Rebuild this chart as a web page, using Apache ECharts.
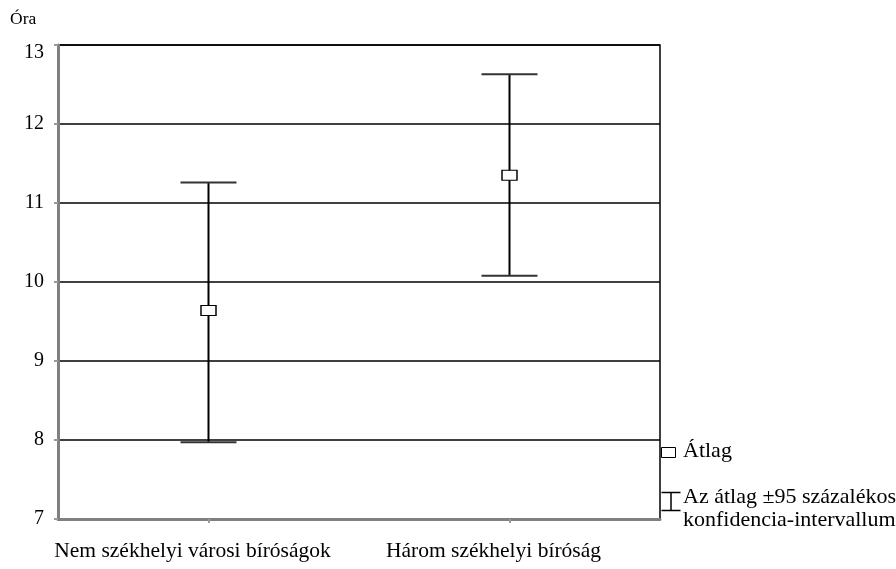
<!DOCTYPE html>
<html>
<head>
<meta charset="utf-8">
<script src="https://cdn.jsdelivr.net/npm/echarts@6/dist/echarts.min.js"></script>
<style>html,body{margin:0;padding:0;background:#fff;}#chart{width:896px;height:569px;}</style>
</head>
<body>
<div id="chart"></div>
<script>
const categories = ['Nem székhelyi városi bíróságok', 'Három székhelyi bíróság'];
const means = [9.64, 11.35];
const lowerCI = [7.97, 10.08];
const upperCI = [11.26, 12.63];
const yMin = 7, yMax = 13, yStep = 1;
const axisName = 'Óra';
const legendMean = 'Átlag';
const legendCI = ['Az átlag ±95 százalékos', 'konfidencia-intervallum'];

const FONT = '"Liberation Serif", "Times New Roman", serif';
const chart = echarts.init(document.getElementById('chart'), null, {renderer: 'canvas'});

const ciData = categories.map((c, i) => [i, lowerCI[i], upperCI[i]]);
const meanData = categories.map((c, i) => [i, means[i]]);

chart.setOption({
  animation: false,
  backgroundColor: '#fff',
  grid: {left: 58, right: 236, top: 45, bottom: 50, show: true, borderColor: '#000', borderWidth: 1.5, backgroundColor: 'transparent'},
  xAxis: {
    type: 'category',
    data: categories,
    boundaryGap: true,
    axisLine: {lineStyle: {color: '#808080', width: 3}},
    axisTick: {show: true, alignWithLabel: true, length: 4, lineStyle: {color: '#999', width: 2}},
    axisLabel: {color: '#000', fontFamily: FONT, fontSize: 21.5, margin: 21, interval: 0, padding: [0, 32, 0, 0]},
    splitLine: {show: false}
  },
  yAxis: {
    type: 'value',
    min: yMin, max: yMax, interval: yStep,
    name: axisName,
    nameLocation: 'end',
    nameGap: 17,
    nameTextStyle: {color: '#000', fontFamily: FONT, fontSize: 17.5, align: 'left', padding: [0, 0, 0, -48]},
    axisLine: {show: true, lineStyle: {color: '#808080', width: 3}},
    axisTick: {show: true, length: 4, lineStyle: {color: '#999', width: 2}},
    axisLabel: {
      color: '#000', fontFamily: FONT, fontSize: 20, margin: 14,
      formatter: function (v) { return v === yMax ? '{t|' + v + '}' : String(v); },
      rich: {t: {color: '#000', fontFamily: FONT, fontSize: 20, padding: [15, 0, 0, 0]}}
    },
    splitLine: {show: true, lineStyle: {color: '#000', width: 1.5}}
  },
  series: [
    {
      type: 'custom',
      name: 'CI',
      data: ciData,
      z: 5,
      renderItem: function (params, api) {
        const x = api.value(0);
        const lo = api.coord([x, api.value(1)]);
        const hi = api.coord([x, api.value(2)]);
        const half = 28;
        return {
          type: 'group',
          children: [
            {type: 'line', shape: {x1: lo[0], y1: lo[1], x2: hi[0], y2: hi[1]}, style: {stroke: '#000', lineWidth: 2}},
            {type: 'line', shape: {x1: hi[0] - half, y1: hi[1], x2: hi[0] + half, y2: hi[1]}, style: {stroke: '#333', lineWidth: 2}},
            {type: 'line', shape: {x1: lo[0] - half, y1: lo[1], x2: lo[0] + half, y2: lo[1]}, style: {stroke: '#333', lineWidth: 2}}
          ]
        };
      }
    },
    {
      type: 'scatter',
      name: legendMean,
      data: meanData,
      z: 10,
      symbol: 'rect',
      symbolSize: [15, 10],
      itemStyle: {color: '#fff', borderColor: '#000', borderWidth: 1.2, opacity: 1}
    }
  ],
  graphic: [
    {type: 'rect', left: 661, top: 447, shape: {width: 14, height: 10}, style: {fill: '#fff', stroke: '#000', lineWidth: 1}},
    {type: 'text', left: 683, top: 440, style: {text: legendMean, font: '22px ' + FONT, fill: '#000'}},
    {type: 'group', left: 659, top: 490, children: [
      {type: 'line', shape: {x1: 0, y1: 1, x2: 19, y2: 1}, style: {stroke: '#000', lineWidth: 1.5}},
      {type: 'line', shape: {x1: 9.5, y1: 1, x2: 9.5, y2: 19}, style: {stroke: '#000', lineWidth: 1.5}},
      {type: 'line', shape: {x1: 0, y1: 19, x2: 19, y2: 19}, style: {stroke: '#000', lineWidth: 1.5}}
    ]},
    {type: 'text', left: 683, top: 486, style: {text: legendCI.join('\n'), font: '22px ' + FONT, fill: '#000', lineHeight: 23}}
  ]
});
</script>
</body>
</html>
